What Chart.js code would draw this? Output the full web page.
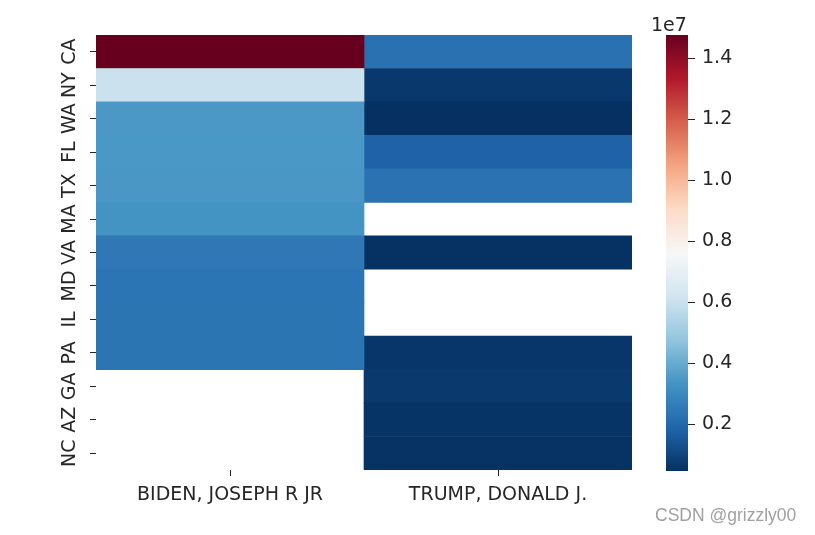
<!DOCTYPE html>
<html>
<head>
<meta charset="utf-8">
<script src="https://cdn.jsdelivr.net/npm/chart.js@4"></script>
<style>
  body { margin: 0; background: #fff; }
  #wrap { position: relative; width: 815px; height: 535px; }
  #main { position: absolute; left: 0; top: 0; width: 815px; height: 535px; }
  #bar { position: absolute; left: 640px; top: 0; width: 175px; height: 535px; }
  #expo { position: absolute; left: 651px; top: 13px; font: 19px 'DejaVu Sans'; color: #262626; }
  #mark { position: absolute; left: 655px; top: 505px; font: 17.5px 'Liberation Sans'; color: #a0a0a0; }
</style>
</head>
<body>
<div id="wrap">
  <div id="main"><canvas id="heatmap"></canvas></div>
  <div id="bar"><canvas id="colorbar"></canvas></div>
  <div id="expo">1e7</div>
  <div id="mark">CSDN @grizzly00</div>
</div>
<script>
// données (montants en dollars, null = case vide)
const states = ['CA', 'NY', 'WA', 'FL', 'TX', 'MA', 'VA', 'MD', 'IL', 'PA', 'GA', 'AZ', 'NC'];
const candidates = ['BIDEN, JOSEPH R JR', 'TRUMP, DONALD J.'];
const bidenAmounts = [14760000, 6050000, 3470000, 3460000, 3450000, 3350000, 2480000, 2370000, 2360000, 2360000, null, null, null];
const trumpAmounts = [2260000, 680000, 470000, 1800000, 2290000, null, 500000, null, null, 640000, 700000, 580000, 520000];
const colorbarTicks = [0.2, 0.4, 0.6, 0.8, 1.0, 1.2, 1.4]; // en unités de 1e7

// palette RdBu_r
const rdbu = ['#053061', '#2166ac', '#4393c3', '#92c5de', '#d1e5f0', '#f7f7f7',
              '#fddbc7', '#f4a582', '#d6604d', '#b2182b', '#67001f'];

const textColor = '#262626';
const font = { family: 'DejaVu Sans', size: 19 };

const allValues = bidenAmounts.concat(trumpAmounts).filter(v => v != null);
const vmin = Math.min(...allValues);
const vmax = Math.max(...allValues);

function hexToRgb(h) {
    return [parseInt(h.slice(1, 3), 16), parseInt(h.slice(3, 5), 16), parseInt(h.slice(5, 7), 16)];
}

function colorFor(v) {
    let t = (v - vmin) / (vmax - vmin);
    t = Math.max(0, Math.min(1, t)) * (rdbu.length - 1);
    const i = Math.min(Math.floor(t), rdbu.length - 2);
    const f = t - i;
    const a = hexToRgb(rdbu[i]), b = hexToRgb(rdbu[i + 1]);
    const c = a.map((x, k) => Math.round(x + (b[k] - x) * f));
    return `rgb(${c[0]},${c[1]},${c[2]})`;
}

function cellDataset(amounts, col) {
    return {
        data: amounts.map(v => v == null ? null : [col, col + 1]),
        backgroundColor: amounts.map(v => v == null ? 'rgba(0,0,0,0)' : colorFor(v)),
        borderWidth: 0,
        barPercentage: 1,
        categoryPercentage: 1,
        grouped: false
    };
}

// heatmap principale
new Chart(document.getElementById('heatmap'), {
    type: 'bar',
    data: {
        labels: states,
        datasets: [cellDataset(bidenAmounts, 0), cellDataset(trumpAmounts, 1)]
    },
    options: {
        indexAxis: 'y',
        animation: false,
        responsive: true,
        maintainAspectRatio: false,
        layout: { padding: { top: 35, right: 183, left: 0, bottom: 0 } },
        plugins: { legend: { display: false }, tooltip: { enabled: false } },
        scales: {
            x: {
                type: 'linear',
                min: 0,
                max: 2,
                afterBuildTicks: s => { s.ticks = [{ value: 0.5 }, { value: 1.5 }]; },
                afterFit: s => { s.height = 65; },
                grid: { drawOnChartArea: false, tickLength: 6, color: textColor },
                border: { display: false },
                ticks: {
                    callback: (v, i) => candidates[i],
                    color: textColor, font: font, padding: 8,
                    maxRotation: 0, autoSkip: false
                }
            },
            y: {
                type: 'category',
                offset: true,
                afterFit: s => { s.width = 96; },
                grid: { drawOnChartArea: false, offset: false, tickLength: 6, color: textColor },
                border: { display: false },
                ticks: {
                    minRotation: 90, maxRotation: 90, crossAlign: 'center',
                    color: textColor, font: font, padding: 4, autoSkip: false
                }
            }
        }
    }
});

// barre de couleur
new Chart(document.getElementById('colorbar'), {
    type: 'bar',
    data: {
        labels: ['scale'],
        datasets: [{
            data: [[vmin, vmax]],
            borderWidth: 0,
            barPercentage: 1,
            categoryPercentage: 1,
            backgroundColor: function(context) {
                const area = context.chart.chartArea;
                if (!area) return null;
                const g = context.chart.ctx.createLinearGradient(0, area.bottom, 0, area.top);
                rdbu.forEach((c, i) => g.addColorStop(i / (rdbu.length - 1), c));
                return g;
            }
        }]
    },
    options: {
        animation: false,
        responsive: true,
        maintainAspectRatio: false,
        layout: { padding: { top: 35, left: 26, right: 0, bottom: 64 } },
        plugins: { legend: { display: false }, tooltip: { enabled: false } },
        scales: {
            x: { display: false },
            y: {
                position: 'right',
                min: vmin,
                max: vmax,
                afterBuildTicks: s => { s.ticks = colorbarTicks.map(t => ({ value: t * 1e7 })); },
                afterFit: s => { s.width = 127; },
                grid: { drawOnChartArea: false, tickLength: 7, color: textColor },
                border: { display: false },
                ticks: {
                    callback: v => (v / 1e7).toFixed(1),
                    color: textColor, font: font, padding: 7
                }
            }
        }
    }
});
</script>
</body>
</html>
